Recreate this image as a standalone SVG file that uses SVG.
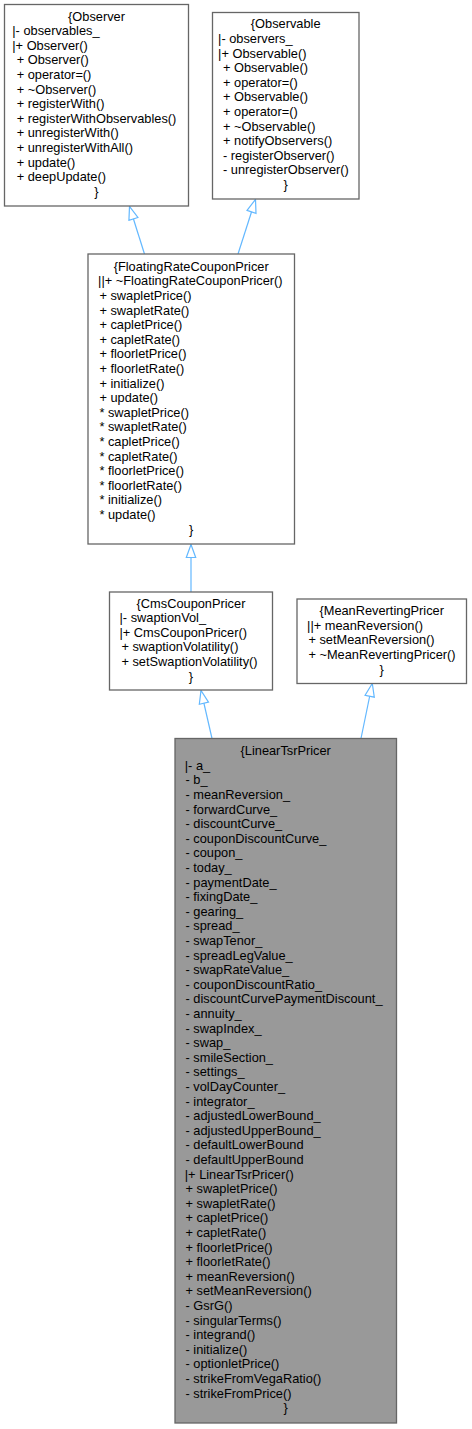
<svg xmlns="http://www.w3.org/2000/svg" width="472" height="1429" viewBox="0 0 472 1429">
<style>
.box{fill:#ffffff;stroke:#666666;stroke-width:1.3}
.main{fill:#999999;stroke:#666666;stroke-width:1.3}
text{font-family:"Liberation Sans",Arial,sans-serif;font-size:12.8px;fill:#000000}
.c{text-anchor:middle}
.edge{fill:none;stroke:#63B8FF;stroke-width:1.2}
</style>
<defs>
<marker id="inh" markerUnits="userSpaceOnUse" viewBox="-1 -1 15 12" refX="13" refY="5" markerWidth="15" markerHeight="12" orient="auto">
<path d="M0,0.3 L13,5 L0,9.7 Z" fill="#ffffff" stroke="#63B8FF" stroke-width="1.2"/>
</marker>
</defs>
<rect width="472" height="1429" fill="#ffffff"/>
<g id="connectors">
<path class="edge" d="M144.5,254 L129.5,206.5" marker-end="url(#inh)"/>
<path class="edge" d="M238,254 L255.5,199.5" marker-end="url(#inh)"/>
<path class="edge" d="M191,592 L191,544.5" marker-end="url(#inh)"/>
<path class="edge" d="M212,738.5 L201,690.5" marker-end="url(#inh)"/>
<path class="edge" d="M361,738.5 L372.3,683.5" marker-end="url(#inh)"/>
</g>
<g id="Observer">
<rect class="box" x="4.5" y="4.5" width="184" height="201.5"/>
<text class="c" x="96.5" y="20.5">{Observer</text>
<text x="12.3" y="35.1">|- observables_</text>
<text x="12.3" y="49.7">|+ Observer()</text>
<text x="16.7" y="64.3">+ Observer()</text>
<text x="16.7" y="78.9">+ operator=()</text>
<text x="16.7" y="93.5">+ ~Observer()</text>
<text x="16.7" y="108.1">+ registerWith()</text>
<text x="16.7" y="122.7">+ registerWithObservables()</text>
<text x="16.7" y="137.3">+ unregisterWith()</text>
<text x="16.7" y="151.9">+ unregisterWithAll()</text>
<text x="16.7" y="166.5">+ update()</text>
<text x="16.7" y="181.1">+ deepUpdate()</text>
<text class="c" x="96.5" y="195.7">}</text>
</g>
<g id="Observable">
<rect class="box" x="212.5" y="12.5" width="146.5" height="186.5"/>
<text class="c" x="285.7" y="28.3">{Observable</text>
<text x="218.1" y="42.9">|- observers_</text>
<text x="218.1" y="57.5">|+ Observable()</text>
<text x="223" y="72.1">+ Observable()</text>
<text x="223" y="86.7">+ operator=()</text>
<text x="223" y="101.3">+ Observable()</text>
<text x="223" y="115.9">+ operator=()</text>
<text x="223" y="130.5">+ ~Observable()</text>
<text x="223" y="145.1">+ notifyObservers()</text>
<text x="223" y="159.7">- registerObserver()</text>
<text x="223" y="174.3">- unregisterObserver()</text>
<text class="c" x="285.7" y="188.9">}</text>
</g>
<g id="FloatingRateCouponPricer">
<rect class="box" x="88" y="254" width="206.5" height="290"/>
<text class="c" x="191.2" y="270.8">{FloatingRateCouponPricer</text>
<text x="98.1" y="285.4">||+ ~FloatingRateCouponPricer()</text>
<text x="99.4" y="300">+ swapletPrice()</text>
<text x="99.4" y="314.6">+ swapletRate()</text>
<text x="99.4" y="329.2">+ capletPrice()</text>
<text x="99.4" y="343.8">+ capletRate()</text>
<text x="99.4" y="358.4">+ floorletPrice()</text>
<text x="99.4" y="373">+ floorletRate()</text>
<text x="99.4" y="387.6">+ initialize()</text>
<text x="99.4" y="402.2">+ update()</text>
<text x="99.4" y="416.8">* swapletPrice()</text>
<text x="99.4" y="431.4">* swapletRate()</text>
<text x="99.4" y="446">* capletPrice()</text>
<text x="99.4" y="460.6">* capletRate()</text>
<text x="99.4" y="475.2">* floorletPrice()</text>
<text x="99.4" y="489.8">* floorletRate()</text>
<text x="99.4" y="504.4">* initialize()</text>
<text x="99.4" y="519">* update()</text>
<text class="c" x="191.2" y="533.6">}</text>
</g>
<g id="CmsCouponPricer">
<rect class="box" x="109.5" y="592" width="163" height="98"/>
<text class="c" x="191" y="607.6">{CmsCouponPricer</text>
<text x="119.5" y="622.2">|- swaptionVol_</text>
<text x="119.5" y="636.8">|+ CmsCouponPricer()</text>
<text x="121.4" y="651.4">+ swaptionVolatility()</text>
<text x="121.4" y="666">+ setSwaptionVolatility()</text>
<text class="c" x="191" y="680.6">}</text>
</g>
<g id="MeanRevertingPricer">
<rect class="box" x="297" y="599" width="169.5" height="84.5"/>
<text class="c" x="381.7" y="615.1">{MeanRevertingPricer</text>
<text x="307.1" y="629.7">||+ meanReversion()</text>
<text x="308.4" y="644.3">+ setMeanReversion()</text>
<text x="308.4" y="658.9">+ ~MeanRevertingPricer()</text>
<text class="c" x="381.7" y="673.5">}</text>
</g>
<g id="LinearTsrPricer">
<rect class="main" x="175" y="738.5" width="221.5" height="684.5"/>
<text class="c" x="285.7" y="755.2">{LinearTsrPricer</text>
<text x="184.8" y="769.8">|- a_</text>
<text x="185.5" y="784.4">- b_</text>
<text x="185.5" y="799">- meanReversion_</text>
<text x="185.5" y="813.6">- forwardCurve_</text>
<text x="185.5" y="828.2">- discountCurve_</text>
<text x="185.5" y="842.8">- couponDiscountCurve_</text>
<text x="185.5" y="857.4">- coupon_</text>
<text x="185.5" y="872">- today_</text>
<text x="185.5" y="886.6">- paymentDate_</text>
<text x="185.5" y="901.2">- fixingDate_</text>
<text x="185.5" y="915.8">- gearing_</text>
<text x="185.5" y="930.4">- spread_</text>
<text x="185.5" y="945">- swapTenor_</text>
<text x="185.5" y="959.6">- spreadLegValue_</text>
<text x="185.5" y="974.2">- swapRateValue_</text>
<text x="185.5" y="988.8">- couponDiscountRatio_</text>
<text x="185.5" y="1003.4">- discountCurvePaymentDiscount_</text>
<text x="185.5" y="1018">- annuity_</text>
<text x="185.5" y="1032.6">- swapIndex_</text>
<text x="185.5" y="1047.2">- swap_</text>
<text x="185.5" y="1061.8">- smileSection_</text>
<text x="185.5" y="1076.4">- settings_</text>
<text x="185.5" y="1091">- volDayCounter_</text>
<text x="185.5" y="1105.6">- integrator_</text>
<text x="185.5" y="1120.2">- adjustedLowerBound_</text>
<text x="185.5" y="1134.8">- adjustedUpperBound_</text>
<text x="185.5" y="1149.4">- defaultLowerBound</text>
<text x="185.5" y="1164">- defaultUpperBound</text>
<text x="184.8" y="1178.6">|+ LinearTsrPricer()</text>
<text x="185.5" y="1193.2">+ swapletPrice()</text>
<text x="185.5" y="1207.8">+ swapletRate()</text>
<text x="185.5" y="1222.4">+ capletPrice()</text>
<text x="185.5" y="1237">+ capletRate()</text>
<text x="185.5" y="1251.6">+ floorletPrice()</text>
<text x="185.5" y="1266.2">+ floorletRate()</text>
<text x="185.5" y="1280.8">+ meanReversion()</text>
<text x="185.5" y="1295.4">+ setMeanReversion()</text>
<text x="185.5" y="1310">- GsrG()</text>
<text x="185.5" y="1324.6">- singularTerms()</text>
<text x="185.5" y="1339.2">- integrand()</text>
<text x="185.5" y="1353.8">- initialize()</text>
<text x="185.5" y="1368.4">- optionletPrice()</text>
<text x="185.5" y="1383">- strikeFromVegaRatio()</text>
<text x="185.5" y="1397.6">- strikeFromPrice()</text>
<text class="c" x="285.7" y="1412.2">}</text>
</g>
</svg>
